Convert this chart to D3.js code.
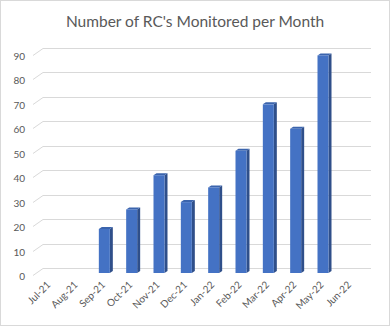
<!DOCTYPE html>
<html>
<head>
<meta charset="utf-8">
<script src="https://cdn.jsdelivr.net/npm/d3@7"></script>
<style>
  html, body { margin: 0; padding: 0; background: #fff; }
  svg { display: block; }
</style>
</head>
<body>
<svg id="chart" width="390" height="326"></svg>
<script>
const months = ["Jul-21","Aug-21","Sep-21","Oct-21","Nov-21","Dec-21","Jan-22","Feb-22","Mar-22","Apr-22","May-22","Jun-22"];
const monitored = [0, 0, 18, 26, 40, 29, 35, 50, 69, 59, 89, 0];
const yTicks = [0, 10, 20, 30, 40, 50, 60, 70, 80, 90];
const titleText = "Number of RC's Monitored per Month";

const W = 390, H = 326;
const svg = d3.select("#chart");
const font = "Lato, 'Open Sans', 'Liberation Sans', sans-serif";

// outer frame
svg.append("rect").attr("x", 0.5).attr("y", 0.5).attr("width", W - 1).attr("height", H - 1)
  .attr("fill", "#fff").attr("stroke", "#d9d9d9");

svg.append("text").attr("x", 195).attr("y", 27).attr("text-anchor", "middle")
  .attr("font-family", font).attr("font-size", 15.5).attr("fill", "#595959")
  .text(titleText);

// back wall of the 3D plot
const wall = { left: 43, right: 371, top: 48, bottom: 268 };
// floor depth (back wall -> front edge)
const depth = { dx: -10, dy: 7 };
// bar front face offset from back wall, and bar thickness
const barOff = { dx: -7, dy: 5 };
const side = { dx: 3, dy: -2 };

const x = d3.scaleBand().domain(months).range([wall.left, wall.right]).paddingInner(0).paddingOuter(0);
const y = d3.scaleLinear().domain([0, 90]).range([wall.bottom, wall.top]);

// gridlines: floor/side diagonal + back wall horizontal
const grid = svg.append("g").attr("stroke", "#d9d9d9").attr("stroke-width", 1).attr("fill", "none");
yTicks.forEach(t => {
  const yy = Math.round(y(t)) + 0.5;
  grid.append("path").attr("d",
    `M${wall.left + depth.dx},${yy + depth.dy}L${wall.left},${yy}L${wall.right},${yy}`);
});

// y-axis labels at the front edge
svg.append("g").selectAll("text").data(yTicks).join("text")
  .attr("x", 25).attr("y", d => Math.round(y(d)) + depth.dy + 1)
  .attr("dy", "0.35em").attr("text-anchor", "end")
  .attr("font-family", font).attr("font-size", 10).attr("fill", "#595959")
  .text(d => d);

// bars
const bw = 11;
const bars = svg.append("g");
months.forEach((m, i) => {
  const v = monitored[i];
  if (!v) return;
  const cx = x(m) + x.bandwidth() / 2 + barOff.dx;
  const x0 = cx - bw / 2, x1 = cx + bw / 2;
  const yb = y(0) + barOff.dy, yt = y(v) + barOff.dy;
  // side face
  bars.append("path").attr("fill", "#2f4f8a")
    .attr("d", `M${x1},${yt}L${x1 + side.dx},${yt + side.dy}L${x1 + side.dx},${yb + side.dy}L${x1},${yb}Z`);
  // top face
  bars.append("path").attr("fill", "#3b64ad")
    .attr("d", `M${x0},${yt}L${x0 + side.dx},${yt + side.dy}L${x1 + side.dx},${yt + side.dy}L${x1},${yt}Z`);
  // front face
  bars.append("rect").attr("x", x0).attr("y", yt).attr("width", bw).attr("height", yb - yt)
    .attr("fill", "#4472c4");
});

// category labels, rotated
svg.append("g").selectAll("text").data(months).join("text")
  .attr("transform", d => {
    const cx = x(d) + x.bandwidth() / 2 + barOff.dx - 1;
    return `translate(${cx},${y(0) + barOff.dy + 10}) rotate(-45)`;
  })
  .attr("text-anchor", "end").attr("dy", "0.35em")
  .attr("font-family", font).attr("font-size", 10).attr("fill", "#595959")
  .text(d => d);
</script>
</body>
</html>
